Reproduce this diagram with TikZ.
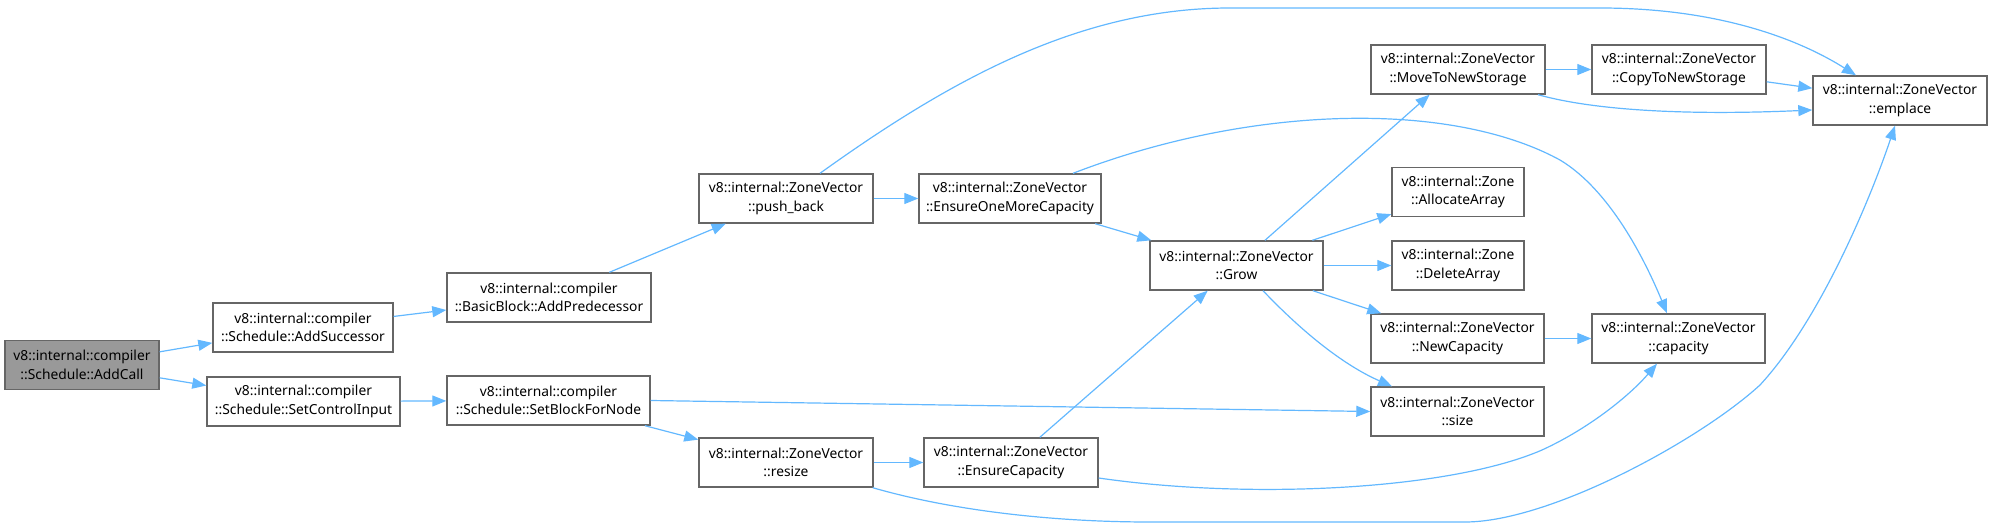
\documentclass[tikz,border=0pt]{standalone}
\definecolor{edgeblue}{HTML}{63B8FF}
\definecolor{boxgray}{HTML}{666666}
\definecolor{callgray}{HTML}{999999}
\usepackage{fontspec}
\setmainfont{Noto Sans}
\usepackage{tikz}
\usetikzlibrary{arrows.meta,calc}
\tikzset{
  fnbox/.style={draw=boxgray,line width=0.7pt,fill=white,minimum height=24.5pt,
    inner sep=0pt,align=center,font=\fontsize{6.9}{9.2}\selectfont},
  rootbox/.style={fnbox,fill=callgray},
  bw/.style={minimum width=#1pt},
  calls/.style={edgeblue,line width=0.6pt,-{Triangle[length=7pt,width=5.5pt]}},
}
\begin{document}
\begin{tikzpicture}[x=0.5pt,y=-0.5pt]
        \useasboundingbox (0,0) rectangle (1993,530);
        % --- caller and first level ---
        \node[rootbox,bw=77]  (addcall)  at (82,365)     {v8::internal::compiler\\::Schedule::AddCall};
        \node[fnbox,bw=90]    (addsucc)  at (303,327.5)  {v8::internal::compiler\\::Schedule::AddSuccessor};
        \node[fnbox,bw=96.5]  (setctrl)  at (303.5,401.5){v8::internal::compiler\\::Schedule::SetControlInput};
        \node[fnbox,bw=102]   (addpred)  at (549,297.5)  {v8::internal::compiler\\::BasicBlock::AddPredecessor};
        \node[fnbox,bw=101.5] (setblock) at (548.5,400.5){v8::internal::compiler\\::Schedule::SetBlockForNode};
        % --- ZoneVector calls ---
        \node[fnbox,bw=87]    (pushback) at (786,198.5)  {v8::internal::ZoneVector\\::push\_back};
        \node[fnbox,bw=87]    (resize)   at (786,462.5)  {v8::internal::ZoneVector\\::resize};
        \node[fnbox,bw=91]    (eomc)     at (1010,198.5) {v8::internal::ZoneVector\\::EnsureOneMoreCapacity};
        \node[fnbox,bw=87]    (ensurecap)at (1011,462.5) {v8::internal::ZoneVector\\::EnsureCapacity};
        \node[fnbox,bw=86.5]  (grow)     at (1236.5,265.5){v8::internal::ZoneVector\\::Grow};
        \node[fnbox,bw=87]    (movestor) at (1458,69.5)  {v8::internal::ZoneVector\\::MoveToNewStorage};
        \node[fnbox,bw=66]    (alloc)    at (1458,192)   {v8::internal::Zone\\::AllocateArray};
        \node[fnbox,bw=66]    (delarr)   at (1458,265.5) {v8::internal::Zone\\::DeleteArray};
        \node[fnbox,bw=86.5]  (newcap)   at (1457.5,338.5){v8::internal::ZoneVector\\::NewCapacity};
        \node[fnbox,bw=86.5]  (size)     at (1457.5,411.5){v8::internal::ZoneVector\\::size};
        \node[fnbox,bw=86.5]  (capacity) at (1678.5,338.5){v8::internal::ZoneVector\\::capacity};
        \node[fnbox,bw=87]    (copystor) at (1679,69.5)  {v8::internal::ZoneVector\\::CopyToNewStorage};
        \node[fnbox,bw=87]    (emplace)  at (1900,100.5) {v8::internal::ZoneVector\\::emplace};
        % straight edges
        \draw[calls] (addcall) -- (addsucc);
        \draw[calls] (addcall) -- (setctrl);
        \draw[calls] (addsucc) -- (addpred);
        \draw[calls] (setctrl) -- (setblock);
        \draw[calls] (addpred) -- (pushback);
        \draw[calls] (setblock) -- (resize);
        \draw[calls] (setblock.east) -- (size.west);
        \draw[calls] (pushback) -- (eomc);
        \draw[calls] (resize) -- (ensurecap);
        \draw[calls] (eomc) -- (grow);
        \draw[calls] (ensurecap) -- (grow);
        \draw[calls] (grow) -- (movestor);
        \draw[calls] (grow) -- (alloc);
        \draw[calls] (grow) -- (delarr);
        \draw[calls] (grow) -- (newcap);
        \draw[calls] (movestor) -- (copystor);
        \draw[calls] (copystor) -- (emplace);
        \draw[calls] (newcap) -- (capacity);
        % curved edges
        \draw[calls] ($(grow.south)+(26.5,0)$) .. controls (1310,340) and (1350,368) .. ($(size.north)+(-65.5,0)$);
        \draw[calls] ($(movestor.south)+(80,0)$) .. controls (1600,112) and (1700,115) .. ($(emplace.west)+(0,9.5)$);
        \draw[calls] ($(pushback.north)+(34,0)$) .. controls (950,80) and (1080,8) .. (1230,8)
          -- (1600,8) .. controls (1720,8) and (1800,40) .. ($(emplace.north)+(-44,0)$);
        \draw[calls] ($(eomc.north)+(63,0)$) .. controls (1250,105) and (1450,100) .. (1560,160)
          .. controls (1610,190) and (1645,260) .. ($(capacity.north)+(-11.5,0)$);
        \draw[calls] ($(ensurecap.east)+(0,15.5)$) .. controls (1250,500) and (1450,490) .. (1542,450)
          .. controls (1590,428) and (1630,395) .. ($(capacity.south)+(-21.5,0)$);
        \draw[calls] ($(resize.south east)+(-1,0)$) .. controls (950,510) and (1050,522) .. (1150,522)
          -- (1465,522) .. controls (1550,522) and (1700,440) .. (1760,385)
          .. controls (1820,320) and (1870,200) .. ($(emplace.south)+(-5,0)$);
      \end{tikzpicture}
\end{document}
